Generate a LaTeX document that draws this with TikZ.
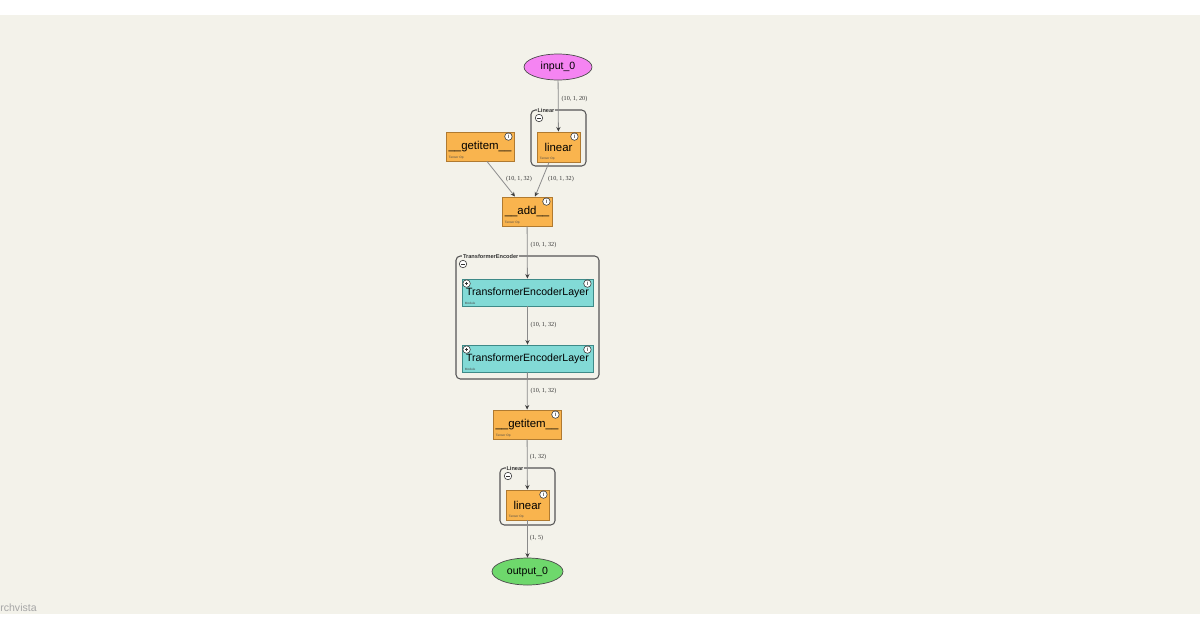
\documentclass[tikz,border=0pt]{standalone}
\usepackage{fontspec}
\setmainfont{Liberation Serif}
\setsansfont{Liberation Sans}
\usetikzlibrary{arrows.meta,shapes.geometric}
\definecolor{bgc}{HTML}{F3F2EA}
\definecolor{opc}{HTML}{F9B44E}
\definecolor{opb}{HTML}{B07A30}
\definecolor{modc}{HTML}{82DAD6}
\definecolor{modb}{HTML}{3E8A88}
\definecolor{inc}{HTML}{F584F2}
\definecolor{outc}{HTML}{6ED86C}
\definecolor{edgec}{HTML}{8A8A8A}
\definecolor{clc}{HTML}{555555}
\tikzset{
  opnode/.style={draw=opb, line width=0.5pt, fill=opc, inner sep=0pt, font=\sffamily\fontsize{6}{7}\selectfont},
  modnode/.style={draw=modb, line width=0.5pt, fill=modc, inner sep=0pt, minimum width=2.62cm, minimum height=0.54cm, font=\sffamily\fontsize{6}{7}\selectfont},
  ionode/.style={ellipse, draw=black!70, line width=0.4pt, inner sep=0pt, font=\sffamily\fontsize{6}{7}\selectfont},
  infoc/.style={circle, draw=black!75, fill=white, line width=0.35pt, minimum size=0.15cm, inner sep=0pt, font=\sffamily\fontsize{3.5}{4}\selectfont},
  tiny/.style={font=\sffamily\fontsize{1.8}{2}\selectfont, text=black!70, inner sep=0pt, anchor=south west},
  elab/.style={font=\fontsize{3.5}{4}\selectfont, text=black!80, inner sep=0pt},
  edge/.style={draw=edgec, line width=0.45pt, -{Stealth[length=2.6pt,width=2.4pt,color=black!75]}},
  cluster/.style={draw=clc, line width=0.6pt, rounded corners=2.5pt},
  cllab/.style={font=\sffamily\bfseries\fontsize{3.2}{4}\selectfont, fill=bgc, inner sep=0.4pt, anchor=west, text=black!80},
  minusc/.style={circle, draw=black!75, fill=white, line width=0.35pt, minimum size=0.15cm, inner sep=0pt},
}
\newcommand\opdeco[1]{%
  \node[infoc] at ([xshift=-0.12cm,yshift=-0.1cm]#1.north east) {i};
  \node[tiny] at ([xshift=0.06cm,yshift=0.04cm]#1.south west) {Tensor Op};}
\newcommand\moddeco[1]{%
  \node[infoc] at ([xshift=-0.12cm,yshift=-0.1cm]#1.north east) {i};
  \node[minusc] (#1p) at ([xshift=0.1cm,yshift=-0.1cm]#1.north west) {};
  \draw[black!80, line width=0.35pt] ([xshift=-0.035cm]#1p.center) -- ([xshift=0.035cm]#1p.center)
     ([yshift=-0.035cm]#1p.center) -- ([yshift=0.035cm]#1p.center);
  \node[tiny] at ([xshift=0.06cm,yshift=0.04cm]#1.south west) {Module};}
\newcommand\minusdeco[1]{%
  \draw[black!80, line width=0.35pt] ([xshift=-0.035cm]#1.center) -- ([xshift=0.035cm]#1.center);}
\begin{document}
\begin{tikzpicture}[x=0.02cm,y=-0.02cm]
\useasboundingbox (0,0) rectangle (1200,630);
\fill[white] (0,0) rectangle (1200,630);
\fill[bgc] (0,15) rectangle (1200,614);

% clusters
\draw[cluster] (531,110) rectangle (586,166);
\node[cllab] (cl1) at (536.5,110) {Linear};
\node[minusc] (cl1m) at (539,118) {};
\minusdeco{cl1m}
\draw[cluster] (456,256) rectangle (599,379);
\node[cllab] (cl2) at (462,256) {TransformerEncoder};
\node[minusc] (cl2m) at (463,264) {};
\minusdeco{cl2m}
\draw[cluster] (500,468) rectangle (555,525);
\node[cllab] (cl3) at (505.5,468) {Linear};
\node[minusc] (cl3m) at (508,476) {};
\minusdeco{cl3m}

% nodes
\node[ionode, fill=inc, minimum width=1.36cm, minimum height=0.52cm] (in) at (558,67) {input\_0};
\node[opnode, minimum width=0.86cm, minimum height=0.6cm] (lin1) at (558.5,147) {\fontsize{6.5}{7}\selectfont linear};
\node[opnode, minimum width=1.36cm, minimum height=0.58cm] (gi1) at (480,146.5) {\fontsize{6.5}{7}\selectfont \_\_getitem\_\_};
\node[opnode, minimum width=1.0cm, minimum height=0.58cm] (add) at (527,211.5) {\fontsize{6.5}{7}\selectfont \_\_add\_\_};
\node[modnode] (tel1) at (527.5,292.5) {TransformerEncoderLayer};
\node[modnode] (tel2) at (527.5,358.5) {TransformerEncoderLayer};
\node[opnode, minimum width=1.36cm, minimum height=0.58cm] (gi2) at (527,424.5) {\fontsize{6.5}{7}\selectfont \_\_getitem\_\_};
\node[opnode, minimum width=0.86cm, minimum height=0.6cm] (lin2) at (527.5,505) {\fontsize{6.5}{7}\selectfont linear};
\node[ionode, fill=outc, minimum width=1.42cm, minimum height=0.54cm] (out) at (527.5,571.5) {output\_0};

\opdeco{lin1}\opdeco{gi1}\opdeco{add}\opdeco{gi2}\opdeco{lin2}
\moddeco{tel1}\moddeco{tel2}

% edges
\draw[edge] (in) -- (lin1);
\draw[edge] ([xshift=0.14cm]gi1.south) -- ([xshift=-0.24cm]add.north);
\draw[edge] ([xshift=-0.19cm]lin1.south) -- ([xshift=0.16cm]add.north);
\draw[edge] (add) -- (tel1);
\draw[edge] (tel1) -- (tel2);
\draw[edge] (tel2) -- (gi2);
\draw[edge] (gi2) -- (lin2);
\draw[edge] (lin2) -- (out);

% edge labels
\node[elab] (l1) at (574.5,99) {(10, 1, 20)};
\node[elab] (l2) at (519,179) {(10, 1, 32)};
\node[elab] (l3) at (561,179) {(10, 1, 32)};
\node[elab] (l4) at (543.5,245) {(10, 1, 32)};
\node[elab] (l5) at (543.5,325) {(10, 1, 32)};
\node[elab] (l6) at (543.5,391) {(10, 1, 32)};
\node[elab] (l7) at (538,457.5) {(1, 32)};
\node[elab] (l8) at (536.5,538) {(1, 5)};

\node[font=\sffamily\fontsize{6}{7}\selectfont, text=black!35, anchor=west, inner sep=0pt] (brand) at (0,607.5) {rchvista};
\end{tikzpicture}
\end{document}
